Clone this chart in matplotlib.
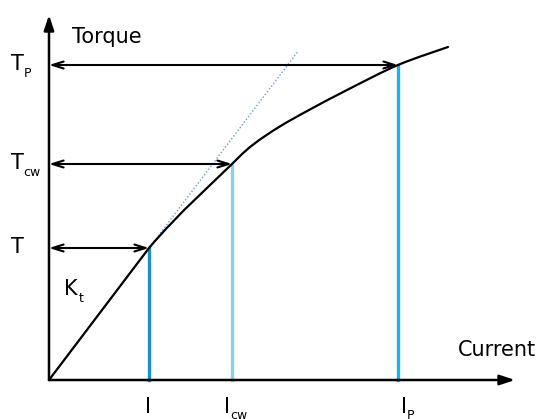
import matplotlib
matplotlib.use("Agg")
import matplotlib.pyplot as plt
import numpy as np
from matplotlib.path import Path
from matplotlib.patches import PathPatch

# torque-current characteristic (arbitrary units)
curve_current = [0.0, 1.00, 1.83, 2.05, 2.30, 2.60, 3.00, 3.49, 3.99]
curve_torque = [0.0, 1.32, 2.16, 2.36, 2.53, 2.70, 2.91, 3.15, 3.33]

# operating points: rated, continuous and peak
op_current = [1.00, 1.83, 3.49]
op_torque = [1.32, 2.16, 3.15]
op_colors = ["#1a90cc", "#88d2f0", "#1ab2ea"]
torque_labels = [("T", ""), ("T", "cw"), ("T", "P")]
current_labels = [("I", ""), ("I", "cw"), ("I", "P")]

kt_slope = 1.32          # linear torque constant, drawn as dotted tangent
kt_end = 2.49
axis_end = (4.66, 3.65)


def smooth_path(x, y):
    """Straight first segment, Catmull-Rom bezier through the rest."""
    p = np.column_stack([x, y])
    verts, codes = [p[0], p[1]], [Path.MOVETO, Path.LINETO]
    n = len(p)
    for i in range(1, n - 1):
        p0 = p[i - 1]
        p1, p2 = p[i], p[i + 1]
        p3 = p[i + 2] if i + 2 < n else p2
        c1 = p1 + (p2 - p0) / 6
        c2 = p2 - (p3 - p1) / 6
        verts += [c1, c2, p2]
        codes += [Path.CURVE4] * 3
    return Path(verts, codes)


fig = plt.figure(figsize=(5.47, 4.19), dpi=100)
ax = fig.add_axes([0, 0, 1, 1])
ax.set_xlim(-0.49, 4.98)
ax.set_ylim(-0.39, 3.80)
ax.axis("off")

# axes with filled arrowheads
ax_arrow = dict(arrowstyle="-|>,head_length=0.9,head_width=0.3", lw=1.8,
                color="black", shrinkA=0, shrinkB=0)
ax.annotate("", xy=(axis_end[0], 0), xytext=(0, 0), arrowprops=ax_arrow)
ax.annotate("", xy=(0, axis_end[1]), xytext=(0, 0), arrowprops=ax_arrow)

# Kt tangent
xs = np.array([0.0, kt_end])
ax.plot(xs, kt_slope * xs, ls=(0, (1, 1.5)), color="#6c9bd6", lw=1.0)

ax.add_patch(PathPatch(smooth_path(curve_current, curve_torque), fill=False,
                       edgecolor="black", lw=1.6, capstyle="round",
                       zorder=3))

# vertical markers and horizontal double arrows
h_arrow = dict(arrowstyle="<->,head_length=0.8,head_width=0.25", lw=1.5,
               color="black", shrinkA=0, shrinkB=0)
for i_val, t_val, col in zip(op_current, op_torque, op_colors):
    ax.plot([i_val, i_val], [0, t_val], color=col, lw=2.4, zorder=1)
    ax.annotate("", xy=(i_val, t_val), xytext=(0, t_val), arrowprops=h_arrow)

fs, fs_sub = 15, 9
# torque labels on the left
for (main, sub), t_val in zip(torque_labels, op_torque):
    ax.text(-0.375, t_val - 0.05, main, fontsize=fs, va="baseline", ha="left")
    if sub:
        ax.text(-0.255, t_val - 0.12, sub, fontsize=fs_sub, va="baseline",
                ha="left")

# current labels below
cur_off = [-0.04, -0.08, 0.03]
for (main, sub), i_val, dx in zip(current_labels, op_current, cur_off):
    ax.text(i_val + dx, -0.33, main, fontsize=fs, va="baseline", ha="left")
    if sub:
        ax.text(i_val + dx + 0.06, -0.385, sub, fontsize=fs_sub,
                va="baseline", ha="left")

ax.text(0.15, 0.85, "K", fontsize=fs, va="baseline", ha="left")
ax.text(0.30, 0.78, "t", fontsize=fs_sub, va="baseline", ha="left")

ax.text(0.23, 3.37, "Torque", fontsize=fs, va="baseline", ha="left")
ax.text(4.09, 0.24, "Current", fontsize=fs, va="baseline", ha="left")

fig.savefig("out.png", dpi=100)
